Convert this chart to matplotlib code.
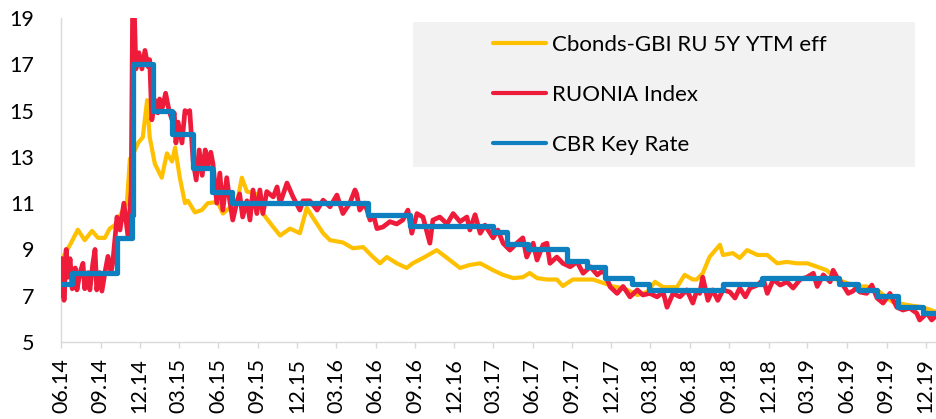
import pandas as pd
import matplotlib.pyplot as plt
import matplotlib.dates as mdates
from matplotlib.patches import Rectangle

# Cbonds-GBI RU 5Y YTM eff, %
cbonds_dates = [
    "2014-06-01", "2014-06-03", "2014-06-22", "2014-07-10", "2014-07-26", "2014-08-12",
    "2014-08-26", "2014-09-11", "2014-09-22", "2014-10-04", "2014-10-20", "2014-11-01",
    "2014-11-08", "2014-11-20", "2014-11-27", "2014-12-08", "2014-12-18", "2014-12-24",
    "2015-01-05", "2015-01-21", "2015-02-02", "2015-02-14", "2015-02-21", "2015-03-04",
    "2015-03-16", "2015-03-23", "2015-04-08", "2015-04-24", "2015-05-08", "2015-05-31",
    "2015-06-12", "2015-06-28", "2015-07-17", "2015-07-26", "2015-08-07", "2015-08-30",
    "2015-09-13", "2015-10-07", "2015-10-23", "2015-11-15", "2015-12-08", "2015-12-24",
    "2016-01-08", "2016-01-31", "2016-02-16", "2016-03-17", "2016-04-09", "2016-05-03",
    "2016-05-26", "2016-06-11", "2016-06-27", "2016-07-20", "2016-08-12", "2016-08-26",
    "2016-09-19", "2016-10-21", "2016-11-14", "2016-12-14", "2017-01-06", "2017-01-30",
    "2017-03-01", "2017-03-24", "2017-04-17", "2017-05-09", "2017-05-25", "2017-06-11",
    "2017-07-04", "2017-07-27", "2017-08-10", "2017-09-02", "2017-09-26", "2017-10-19",
    "2017-11-12", "2017-12-04", "2017-12-28", "2018-01-30", "2018-02-22", "2018-03-12",
    "2018-03-31", "2018-05-02", "2018-05-20", "2018-06-08", "2018-06-17", "2018-07-01",
    "2018-07-17", "2018-08-10", "2018-08-17", "2018-09-09", "2018-09-25", "2018-10-12",
    "2018-11-05", "2018-11-28", "2018-12-21", "2019-01-13", "2019-02-04", "2019-03-01",
    "2019-03-24", "2019-04-15", "2019-05-09", "2019-06-01", "2019-06-24", "2019-07-17",
    "2019-08-16", "2019-09-15", "2019-10-19", "2019-11-25", "2019-12-25",
]
cbonds_values = [
    8.5, 8.6, 9.2, 9.85, 9.4, 9.8,
    9.5, 9.5, 9.9, 10.05, 10.6, 11.0,
    12.9, 13.3, 13.6, 13.85, 15.45, 13.85,
    12.7, 12.1, 13.15, 12.8, 13.4, 12.1,
    11.0, 11.1, 10.6, 10.7, 11.0, 11.05,
    10.55, 10.8, 11.2, 12.1, 11.5, 11.4,
    10.55, 9.97, 9.6, 9.9, 9.7, 10.8,
    10.35, 9.7, 9.4, 9.3, 9.05, 9.1,
    8.67, 8.4, 8.67, 8.4, 8.2, 8.4,
    8.63, 8.97, 8.63, 8.2, 8.33, 8.4,
    8.1, 7.9, 7.76, 7.8, 7.98, 7.76,
    7.7, 7.7, 7.42, 7.7, 7.7, 7.7,
    7.55, 7.4, 7.33, 7.03, 7.16, 7.6,
    7.37, 7.37, 7.9, 7.7, 7.7, 7.97,
    8.68, 9.2, 8.76, 8.84, 8.63, 8.97,
    8.76, 8.76, 8.4, 8.46, 8.4, 8.4,
    8.25, 8.1, 7.7, 7.55, 7.4, 7.4,
    7.16, 6.73, 6.6, 6.5, 6.3,
]

# RUONIA Index, %
ruonia_dates = [
    "2014-06-01", "2014-06-03", "2014-06-06", "2014-06-08", "2014-06-13", "2014-06-17",
    "2014-06-22", "2014-06-27", "2014-07-04", "2014-07-08", "2014-07-15", "2014-07-22",
    "2014-07-26", "2014-08-03", "2014-08-07", "2014-08-14", "2014-08-19", "2014-08-23",
    "2014-08-30", "2014-09-04", "2014-09-11", "2014-09-18", "2014-09-25", "2014-09-29",
    "2014-10-09", "2014-10-16", "2014-10-25", "2014-11-04", "2014-11-11", "2014-11-15",
    "2014-11-18", "2014-11-22", "2014-11-29", "2014-12-06", "2014-12-13", "2014-12-20",
    "2014-12-24", "2014-12-29", "2015-01-05", "2015-01-12", "2015-01-16", "2015-01-23",
    "2015-01-30", "2015-02-07", "2015-02-14", "2015-02-19", "2015-02-23", "2015-02-28",
    "2015-03-09", "2015-03-16", "2015-03-23", "2015-03-27", "2015-04-04", "2015-04-11",
    "2015-04-18", "2015-04-25", "2015-05-02", "2015-05-08", "2015-05-15", "2015-05-20",
    "2015-05-29", "2015-06-05", "2015-06-12", "2015-06-21", "2015-06-28", "2015-07-05",
    "2015-07-14", "2015-07-21", "2015-07-28", "2015-08-07", "2015-08-14", "2015-08-21",
    "2015-08-30", "2015-09-06", "2015-09-13", "2015-09-22", "2015-10-07", "2015-10-16",
    "2015-10-23", "2015-11-08", "2015-11-22", "2015-12-08", "2015-12-15", "2015-12-31",
    "2016-01-17", "2016-01-31", "2016-02-16", "2016-03-03", "2016-03-17", "2016-04-02",
    "2016-04-14", "2016-04-18", "2016-04-25", "2016-05-07", "2016-05-19", "2016-05-28",
    "2016-06-04", "2016-06-18", "2016-07-04", "2016-07-20", "2016-08-03", "2016-08-15",
    "2016-08-24", "2016-09-05", "2016-09-19", "2016-10-05", "2016-10-12", "2016-10-28",
    "2016-11-14", "2016-11-28", "2016-12-14", "2016-12-30", "2017-01-06", "2017-01-18",
    "2017-01-30", "2017-02-10", "2017-03-01", "2017-03-12", "2017-03-24", "2017-04-09",
    "2017-04-25", "2017-05-09", "2017-05-18", "2017-06-02", "2017-06-11", "2017-06-25",
    "2017-07-04", "2017-07-11", "2017-07-27", "2017-08-10", "2017-08-27", "2017-09-12",
    "2017-09-26", "2017-10-13", "2017-10-29", "2017-11-12", "2017-11-28", "2017-12-14",
    "2017-12-28", "2018-01-13", "2018-01-30", "2018-02-12", "2018-02-28", "2018-03-17",
    "2018-03-31", "2018-04-09", "2018-04-23", "2018-05-09", "2018-05-25", "2018-06-08",
    "2018-06-17", "2018-06-24", "2018-07-01", "2018-07-13", "2018-07-24", "2018-08-05",
    "2018-08-17", "2018-09-02", "2018-09-14", "2018-09-25", "2018-10-08", "2018-10-19",
    "2018-11-05", "2018-11-19", "2018-11-28", "2018-12-12", "2018-12-28", "2019-01-13",
    "2019-01-27", "2019-02-12", "2019-02-28", "2019-03-15", "2019-03-24", "2019-04-07",
    "2019-04-23", "2019-04-30", "2019-05-09", "2019-05-23", "2019-06-04", "2019-06-15",
    "2019-06-27", "2019-07-01", "2019-07-17", "2019-07-29", "2019-08-10", "2019-08-24",
    "2019-09-09", "2019-09-25", "2019-10-09", "2019-10-25", "2019-11-10", "2019-11-17",
    "2019-12-04", "2019-12-15", "2019-12-22",
]
ruonia_values = [
    8.6, 7.0, 8.5, 6.8, 9.0, 7.8,
    8.6, 7.3, 8.2, 7.25, 8.0, 8.4,
    7.3, 8.0, 7.25, 8.4, 9.0, 7.25,
    8.0, 7.2, 8.0, 8.7, 8.0, 8.4,
    10.4, 9.84, 11.0, 9.5, 11.57, 21.0,
    19.5, 16.8, 17.5, 16.8, 17.6, 16.9,
    17.2, 14.6, 15.45, 14.9, 15.5, 15.15,
    15.75, 15.0, 14.6, 14.9, 13.6, 14.5,
    13.6, 15.0, 14.9, 15.0, 12.8, 12.0,
    13.3, 12.2, 13.3, 12.6, 13.2, 12.7,
    11.0, 12.3, 10.7, 12.1, 11.1, 10.27,
    11.0, 11.4, 10.4, 11.1, 10.27, 11.57,
    10.55, 11.57, 10.55, 11.5, 11.27, 11.7,
    11.0, 11.87, 11.27, 10.7, 11.1, 11.1,
    10.7, 11.13, 10.84, 11.35, 10.55, 11.0,
    11.57, 11.4, 10.7, 11.0, 10.27, 10.4,
    9.9, 9.97, 10.2, 10.1, 10.27, 10.7,
    9.7, 10.55, 10.4, 9.27, 10.27, 10.4,
    10.1, 10.55, 10.2, 10.4, 9.84, 10.5,
    9.7, 10.05, 9.5, 9.84, 9.27, 8.97,
    9.27, 9.5, 8.67, 9.27, 8.54, 9.2,
    9.27, 8.4, 8.67, 8.4, 8.25, 8.46,
    7.97, 8.25, 7.9, 8.1, 7.38, 7.1,
    7.4, 6.95, 7.25, 7.03, 7.1, 6.95,
    7.16, 6.5, 7.1, 6.95, 7.25, 6.68,
    7.2, 7.1, 7.8, 6.8, 7.25, 6.8,
    7.25, 7.16, 6.9, 7.33, 6.95, 7.33,
    7.46, 7.7, 7.1, 7.7, 7.46, 7.6,
    7.33, 7.7, 7.8, 7.97, 7.4, 7.9,
    7.6, 8.1, 7.8, 7.46, 7.1, 7.2,
    7.4, 7.16, 7.1, 7.46, 6.9, 6.68,
    7.1, 6.5, 6.38, 6.46, 6.25, 5.95,
    6.25, 5.95, 6.08,
]

# CBR key rate, % (value holds from the date until the next one)
keyrate_dates = [
    "2014-06-01", "2014-06-26", "2014-10-09", "2014-11-13", "2014-11-15", "2015-01-01",
    "2015-02-14", "2015-04-04", "2015-05-18", "2015-07-03", "2016-05-14", "2016-08-19",
    "2017-02-28", "2017-04-02", "2017-05-21", "2017-08-19", "2017-10-05", "2017-11-15",
    "2018-01-18", "2018-02-25", "2018-08-17", "2018-11-16", "2019-05-14", "2019-06-27",
    "2019-08-10", "2019-09-27", "2019-11-24", "2019-12-25",
]
keyrate_values = [
    7.5, 8.0, 9.5, 10.5, 17.0, 15.0,
    14.0, 12.5, 11.5, 11.0, 10.5, 10.0,
    9.75, 9.25, 9.0, 8.5, 8.25, 7.75,
    7.5, 7.25, 7.5, 7.75, 7.5, 7.25,
    7.0, 6.5, 6.25, 6.25,
]

y_ticks = [5, 7, 9, 11, 13, 15, 17, 19]

plt.rcParams["font.family"] = ["Lato", "DejaVu Sans"]

fig = plt.figure(figsize=(9.36, 4.19), dpi=100)
ax = fig.add_axes([0.0652, 0.1838, 0.9348, 0.7732])

ax.plot(pd.to_datetime(cbonds_dates), cbonds_values, color="#FFC000", lw=3.0,
        solid_joinstyle="round", label="Cbonds-GBI RU 5Y YTM eff", zorder=2)
ax.plot(pd.to_datetime(ruonia_dates), ruonia_values, color="#EE1C3A", lw=3.4,
        solid_joinstyle="round", label="RUONIA Index", zorder=3)
ax.step(pd.to_datetime(keyrate_dates), keyrate_values, where="post", color="#0F80BF",
        lw=3.8, label="CBR Key Rate", zorder=4)

ax.set_ylim(5, 19)
ax.set_yticks(y_ticks)
ax.set_xlim(pd.Timestamp("2014-06-01"), pd.Timestamp("2019-12-25"))
ax.xaxis.set_major_locator(mdates.MonthLocator(bymonth=[3, 6, 9, 12]))
ax.xaxis.set_major_formatter(mdates.DateFormatter("%m.%y"))

for side in ["top", "right"]:
    ax.spines[side].set_visible(False)
for side in ["left", "bottom"]:
    ax.spines[side].set_color("#D9D9D9")
    ax.spines[side].set_linewidth(1.0)

ax.tick_params(axis="y", length=0, pad=19, labelsize=15.5, labelcolor="black")
ax.tick_params(axis="x", length=4.5, width=1.0, color="#D9D9D9", pad=7,
               labelsize=15.5, labelcolor="black", labelrotation=90)

# legend on a light grey panel
fig.add_artist(Rectangle((0.4412, 0.6014), 0.5363, 0.346, transform=fig.transFigure,
                         facecolor="#F2F2F2", edgecolor="none", zorder=5))
leg = fig.legend(loc="upper left", bbox_to_anchor=(493 / 936, (419 - 35) / 419),
                 frameon=False, fontsize=16, handlelength=2.4, handletextpad=0.25,
                 labelspacing=1.35, borderpad=0, borderaxespad=0)
leg.set_zorder(6)
for line in leg.get_lines():
    line.set_linewidth(3.0)
    line.set_solid_capstyle("round")

plt.savefig("out.png", dpi=100)
